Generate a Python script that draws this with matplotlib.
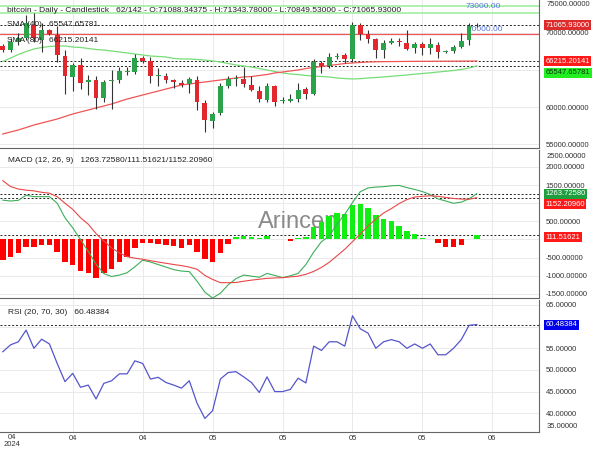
import numpy as np
import matplotlib
matplotlib.use('Agg')
import matplotlib.pyplot as plt
import matplotlib.transforms as mtransforms

plt.rcParams['font.family'] = ['Liberation Sans', 'DejaVu Sans']

# candles (daily)
opens = [68240, 67650, 68800, 69320, 71080, 69050, 70400, 69730, 66890, 64060,
         65680, 63380, 63650, 61220, 63510, 63650, 64730, 64730, 66620, 66220,
         64190, 64190, 63650, 63250, 63110, 63650, 60540, 58110, 59190, 62840,
         63790, 63790, 62980, 62160, 60950, 62840, 60810, 60810, 61080, 62430,
         61760, 65950, 65540, 66760, 67030, 66490, 71080, 69870, 69190, 67700,
         68650, 68920, 68650, 67970, 68510, 67970, 68380, 67430, 67570, 68110,
         69050, 71088.34]
highs = [68510, 69320, 70000, 72430, 72700, 71350, 70540, 70950, 67700, 65950,
         66620, 64330, 64190, 63650, 65000, 65410, 65410, 67160, 66890, 66760,
         65270, 64600, 63790, 63650, 64060, 64190, 60950, 59330, 63250, 64190,
         64330, 65410, 64190, 62840, 63250, 62980, 61350, 61760, 63250, 62710,
         66490, 66220, 67300, 67300, 67300, 71490, 71350, 70410, 69320, 69050,
         69320, 69320, 70410, 68780, 68780, 69320, 68780, 67700, 68380, 70000,
         71340, 71343.78]
lows = [67430, 67430, 68400, 69050, 68780, 67430, 69730, 66080, 61760, 62160,
        62430, 61620, 59730, 60680, 59730, 63250, 64330, 64460, 65950, 63250,
        62840, 63250, 62570, 62710, 61890, 59600, 56630, 57170, 58920, 62570,
        62840, 62710, 62160, 60680, 60680, 60140, 60540, 60680, 60680, 61080,
        61620, 64600, 65270, 66490, 65950, 66080, 69050, 68650, 66620, 66620,
        68510, 68240, 67700, 67300, 67030, 67160, 66620, 67300, 67300, 67970,
        68380, 70849.53]
closes = [67700, 68750, 69320, 71350, 69320, 70400, 69870, 67030, 64190, 65680,
          63250, 63650, 61220, 63380, 63650, 64870, 64870, 66620, 66220, 64190,
          64330, 63650, 63380, 62980, 63790, 60680, 58250, 59060, 62840, 63790,
          63920, 63110, 62300, 61080, 62840, 60680, 60950, 61080, 62300, 61760,
          66080, 65540, 66760, 66890, 66490, 71080, 69870, 69190, 67700, 68650,
          68920, 68780, 67840, 68510, 67970, 68510, 67430, 67570, 68110, 68920,
          71000, 71065.93]

sma40 = [66150, 66620, 67100, 67500, 67840, 68040, 68180, 68240, 68240, 68110,
         68040, 67910, 67770, 67700, 67570, 67430, 67300, 67160, 67030, 66890,
         66830, 66760, 66560, 66490, 66490, 66420, 66350, 66220, 66080, 65880,
         65680, 65540, 65410, 65200, 65000, 64800, 64600, 64460, 64390, 64260,
         64190, 64120, 64060, 63920, 63850, 63790, 63830, 63920, 63990, 64060,
         64150, 64240, 64330, 64440, 64530, 64620, 64730, 64830, 64930, 65070,
         65270, 65547.66]
sma80 = [56360, 56630, 56900, 57230, 57570, 57840, 58110, 58380, 58720, 59060,
         59330, 59600, 59870, 60140, 60410, 60750, 61080, 61350, 61620, 61890,
         62160, 62430, 62700, 62980, 63110, 63250, 63380, 63520, 63650, 63790,
         63920, 64060, 64120, 64260, 64390, 64600, 64730, 64870, 65000, 65200,
         65340, 65470, 65610, 65740, 65880, 65950, 66020, 66080, 66110, 66130,
         66140, 66150, 66160, 66170, 66175, 66180, 66185, 66190, 66195, 66200,
         66208, 66215.20]

macd = [1085, 1060, 1080, 1220, 1180, 1180, 1180, 1000, 600, 320,
        0, -330, -680, -940, -1020, -980, -915, -750, -570, -620,
        -690, -760, -830, -870, -885, -1150, -1450, -1615, -1480, -1250,
        -1080, -980, -1010, -1040, -935, -990, -1050, -1000, -935, -690,
        -350, -60, 90, 430, 690, 1020, 1317, 1420, 1445, 1455,
        1480, 1490, 1430, 1380, 1320, 1240, 1120, 1060, 997, 1030,
        1120, 1263.7258]
signal = [1620, 1460, 1390, 1360, 1340, 1300, 1275, 1180, 1000, 830,
          600, 420, 160, -40, -230, -370, -474, -515, -545, -585,
          -620, -655, -690, -720, -760, -820, -990, -1100, -1190, -1190,
          -1185, -1150, -1120, -1095, -1070, -1060, -1052, -1030, -1010, -960,
          -880, -770, -630, -450, -270, -60, 150, 370, 560, 730,
          850, 990, 1100, 1170, 1190, 1205, 1190, 1160, 1130, 1115,
          1110, 1152.2096]
hist = [-565, -490, -380, -198, -215, -152, -152, -336, -628, -702,
        -859, -915, -1052, -931, -821, -612, -490, -226, -88, -105,
        -124, -152, -179, -226, -152, -336, -545, -628, -364, -132,
        77, 96, 60, 40, 96, 15, 5, -30, 30, 60,
        353, 490, 647, 722, 702, 950, 970, 876, 675, 565,
        510, 372, 243, 152, 33, 10, -105, -200, -200, -150,
        20, 111.51621]

rsi = [54.2, 55.8, 56.5, 59.2, 55.0, 57.1, 56.0, 51.5, 47.3, 49.2,
       46.0, 46.5, 43.3, 46.9, 47.5, 49.1, 49.1, 52.1, 51.5, 47.9,
       48.3, 47.1, 46.5, 45.8, 47.5, 42.3, 38.8, 40.6, 47.9, 49.4,
       49.6, 48.4, 47.1, 44.8, 48.4, 45.0, 45.0, 45.5, 48.1, 47.0,
       55.5, 54.5, 56.5, 56.5, 55.5, 62.5, 59.5, 58.5, 55.0, 56.5,
       57.0, 56.5, 55.0, 56.0, 55.0, 56.0, 53.5, 53.5, 55.0, 57.0,
       60.3, 60.48384]

tick_pos = [9, 18, 27, 36, 45, 54, 63]
tick_lab = ['04', '04', '05', '05', '05', '05', '06']

o = np.array(opens); h = np.array(highs); l = np.array(lows); c = np.array(closes)
idx = np.arange(len(c))

fig = plt.figure(figsize=(6, 4.5), dpi=100)
W = 539 / 600
ax_p = fig.add_axes([0, 1 - 148 / 450, W, 148 / 450])
ax_m = fig.add_axes([0, 1 - 298 / 450, W, 148 / 450], sharex=ax_p)
ax_r = fig.add_axes([0, 1 - 432 / 450, W, 132 / 450], sharex=ax_p)

for ax in (ax_p, ax_m, ax_r):
    ax.yaxis.tick_right()
    ax.spines['left'].set_visible(False)
    ax.spines['top'].set_visible(False)
    ax.spines['right'].set_color('#666666')
    ax.spines['bottom'].set_color('#666666')
    ax.grid(True, color='#e6e6e6', lw=0.6, zorder=0)
    ax.set_axisbelow(True)
    ax.tick_params(axis='y', length=0, pad=5, labelsize=5.5, labelcolor='#333333')
    ax.tick_params(axis='x', length=0, pad=2, labelsize=5.5, labelcolor='#333333')
    ax.set_xticks(tick_pos)
ax_p.tick_params(axis='x', labelbottom=False)
ax_m.tick_params(axis='x', labelbottom=False)
ax_r.set_xticklabels(tick_lab)
ax_p.set_xlim(-0.36, 69.0)

def box(ax, y, text, fc, tc='white'):
    tr = mtransforms.blended_transform_factory(ax.transAxes, ax.transData)
    ax.text(1.012, y, text, transform=tr, fontsize=5.5, color=tc, va='center', ha='left',
            clip_on=False, zorder=10,
            bbox=dict(boxstyle='square,pad=0.2', fc=fc, ec='none'))

def dash(ax, y):
    ax.axhline(y, color='#222222', lw=0.7, ls=(0, (2, 2)), zorder=2)

# price panel
ax_p.set_ylim(54464, 74458)
ax_p.set_yticks([55000, 60000, 65000, 70000])
ax_p.set_yticklabels(['55000.00000', '60000.00000', '', '70000.00000'])
ax_p.text(1.0148, 1 - 5 / 148, '75000.00000', transform=ax_p.transAxes, fontsize=5.5,
          color='#333333', va='center', ha='left', clip_on=False)

ax_p.axhline(73580, color='#a8f0a8', lw=1.3, zorder=1)
ax_p.axhline(72700, color='#a8f0a8', lw=1.3, zorder=1)
ax_p.axhline(69870, color='#ee5555', lw=0.9, zorder=1)
ax_p.text(59.5, 73550, '73000.00', fontsize=6, color='#5577dd', va='center', zorder=1)
ax_p.text(59.8, 70540, '70000.00', fontsize=6, color='#5577dd', va='center', zorder=1)
for v in (71065.93, 66215.20141, 65547.65781):
    dash(ax_p, v)

ax_p.plot(idx, sma40, color='#77dd77', lw=0.9, zorder=2)
ax_p.plot(idx, sma80, color='#ee5555', lw=0.9, zorder=2)

diff = np.abs(c - o)
mid = (c + o) / 2
bh = np.maximum(diff, 110)
bb = np.where(diff < 110, mid - 55, np.minimum(o, c))
cols = np.where(c >= o, '#2ca24a', '#e0282e')
ax_p.vlines(idx, l, h, color='#333333', lw=0.8, zorder=3)
ax_p.bar(idx, bh, bottom=bb, width=0.62, color=cols, zorder=4)

ax_p.text(7 / 539, 1 - 10 / 148,
          'bitcoin - Daily - Candlestick   62/142 - O:71088.34375 - H:71343.78000 - L:70849.53000 - C:71065.93000',
          transform=ax_p.transAxes, fontsize=6, color='#222222', va='center', zorder=6)
ax_p.text(7 / 539, 1 - 25 / 148, 'SMA (40)   65547.65781', transform=ax_p.transAxes,
          fontsize=6, color='#222222', va='center', zorder=6)
ax_p.text(7 / 539, 1 - 41 / 148, 'SMA (80)   66215.20141', transform=ax_p.transAxes,
          fontsize=6, color='#222222', va='center', zorder=6)

box(ax_p, 71065.93, '71065.93000', '#dd2a2a')
box(ax_p, 66215.2, '66215.20141', '#ff1a1a')
box(ax_p, 64600, '65547.65781', '#22ee22', '#113311')

# MACD panel
ax_m.set_ylim(-1612, 2466)
ax_m.set_yticks([-1500, -1000, -500, 0, 500, 1000, 1500, 2000])
ax_m.set_yticklabels(['-1500.00000', '-1000.00000', '-500.00000', '', '500.00000', '',
                      '1500.00000', '2000.00000'])
ax_m.text(1.0148, 1 - 6 / 148, '2500.00000', transform=ax_m.transAxes, fontsize=5.5,
          color='#333333', va='center', ha='left', clip_on=False)
ax_m.text(32.8, 482, 'Arincen', fontsize=17, color='#8a8a8a', va='center', ha='left', zorder=1)
hv = np.array(hist)
ax_m.bar(idx, hv, width=0.7, color=np.where(hv >= 0, '#11ee11', '#ff0000'), zorder=3)
for v in (1263.7258, 1152.2096, 111.51621):
    dash(ax_m, v)
ax_m.plot(idx, macd, color='#3cae5a', lw=0.8, zorder=4)
ax_m.plot(idx, signal, color='#e84848', lw=0.8, zorder=4)
ax_m.text(8 / 539, 1 - 11 / 148, 'MACD (12, 26, 9)   1263.72580/111.51621/1152.20960',
          transform=ax_m.transAxes, fontsize=6, color='#222222', va='center')
box(ax_m, 1263.7258, '1263.72580', '#1f9e3f')
box(ax_m, 970, '1152.20960', '#ff1a1a')
box(ax_m, 60, '111.51621', '#ff1a1a')

# RSI panel
ax_r.set_ylim(35.67, 66.15)
ax_r.set_yticks([40, 45, 50, 55, 60, 65])
ax_r.set_yticklabels(['40.00000', '45.00000', '50.00000', '55.00000', '', '65.00000'])
ax_r.text(1.0148, 5 / 132, '35.00000', transform=ax_r.transAxes, fontsize=5.5,
          color='#333333', va='center', ha='left', clip_on=False)
dash(ax_r, 60.48384)
ax_r.plot(idx, rsi, color='#5555cc', lw=0.9, zorder=3)
ax_r.text(8 / 539, 1 - 12 / 132, 'RSI (20, 70, 30)   60.48384', transform=ax_r.transAxes,
          fontsize=6, color='#222222', va='center')
box(ax_r, 60.48384, '60.48384', '#0000ee')
tr = mtransforms.blended_transform_factory(ax_r.transData, ax_r.transAxes)
ax_r.text(1.18, -0.015, '04\n2024', transform=tr, fontsize=5.5, color='#333333',
          ha='center', va='top', linespacing=1.1)

fig.savefig('out.png', dpi=100)
